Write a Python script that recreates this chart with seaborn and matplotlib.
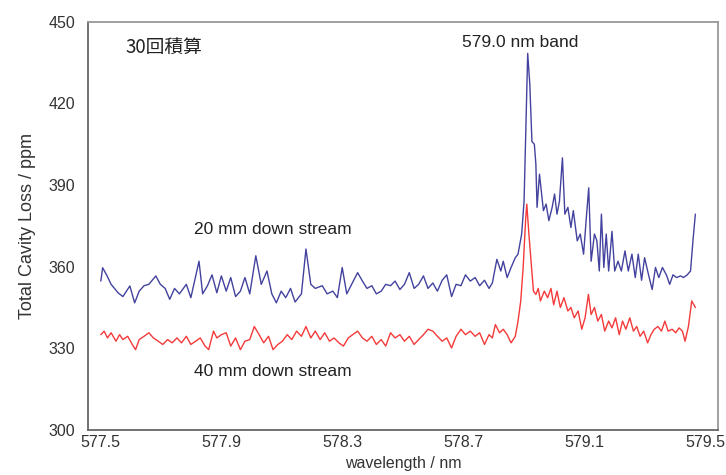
import numpy as np
import pandas as pd
import matplotlib
matplotlib.use("Agg")
import matplotlib.pyplot as plt
from matplotlib.ticker import MultipleLocator
import seaborn as sns

# ---- data ----
wl_20mm = [577.500, 577.506, 577.519, 577.534, 577.557, 577.573, 577.596, 577.612, 577.627, 577.643,
           577.659, 577.682, 577.697, 577.713, 577.728, 577.744, 577.760, 577.783, 577.798, 577.825,
           577.837, 577.853, 577.868, 577.884, 577.899, 577.915, 577.930, 577.946, 577.962, 577.977,
           577.993, 578.013, 578.031, 578.050, 578.066, 578.081, 578.097, 578.112, 578.128, 578.143,
           578.164, 578.179, 578.195, 578.210, 578.233, 578.249, 578.268, 578.283, 578.299, 578.314,
           578.330, 578.350, 578.366, 578.381, 578.397, 578.412, 578.428, 578.443, 578.459, 578.474,
           578.490, 578.505, 578.521, 578.537, 578.552, 578.568, 578.583, 578.599, 578.614, 578.630,
           578.645, 578.661, 578.676, 578.692, 578.707, 578.723, 578.739, 578.754, 578.770, 578.785,
           578.796, 578.811, 578.824, 578.832, 578.845, 578.858, 578.872, 578.881, 578.893, 578.901,
           578.909, 578.913, 578.920, 578.927, 578.935, 578.940, 578.944, 578.952, 578.959, 578.965,
           578.974, 578.983, 578.994, 579.002, 579.010, 579.018, 579.028, 579.036, 579.046, 579.056,
           579.064, 579.077, 579.087, 579.098, 579.108, 579.115, 579.123, 579.134, 579.142, 579.150,
           579.157, 579.165, 579.173, 579.181, 579.192, 579.201, 579.212, 579.223, 579.235, 579.246,
           579.258, 579.269, 579.279, 579.290, 579.300, 579.313, 579.325, 579.336, 579.347, 579.359,
           579.372, 579.383, 579.394, 579.406, 579.419, 579.429, 579.441, 579.452, 579.460, 579.468]
loss_20mm = [354.7, 359.6, 357.0, 353.5, 350.4, 349.0, 352.9, 346.7, 351.0, 353.0,
             353.5, 356.6, 353.5, 352.0, 348.0, 352.0, 350.0, 353.5, 348.6, 362.0,
             350.0, 353.0, 357.0, 350.4, 356.6, 351.0, 356.0, 349.0, 351.0, 356.0,
             350.0, 364.0, 353.5, 358.4, 350.0, 346.7, 351.0, 348.6, 352.0, 347.0,
             350.0, 366.5, 353.5, 352.0, 353.0, 350.0, 351.0, 348.6, 359.7, 350.0,
             353.5, 357.8, 354.7, 352.0, 353.0, 350.0, 351.0, 353.5, 353.0, 354.7,
             351.6, 353.5, 357.8, 352.0, 353.5, 356.6, 352.0, 354.0, 351.0, 355.0,
             357.0, 349.0, 353.5, 353.0, 357.0, 354.7, 356.0, 353.0, 355.0, 352.0,
             354.0, 362.7, 358.4, 362.0, 356.0, 359.7, 363.3, 364.6, 372.0, 384.0,
             421.0, 438.4, 427.0, 406.0, 405.0, 397.8, 381.8, 394.0, 386.7, 380.6,
             383.0, 376.9, 381.8, 386.7, 379.3, 384.0, 400.0, 379.3, 381.8, 374.4,
             380.6, 369.5, 372.0, 364.6, 379.3, 389.0, 362.0, 372.0, 369.5, 358.4,
             379.3, 359.7, 372.0, 358.4, 373.0, 358.4, 362.0, 358.4, 365.8, 358.4,
             364.6, 356.0, 364.6, 355.0, 363.3, 357.0, 351.6, 359.7, 356.0, 359.7,
             357.0, 353.5, 357.0, 356.0, 356.6, 356.0, 357.0, 358.4, 369.5, 379.3]

wl_40mm = [577.500, 577.511, 577.522, 577.534, 577.550, 577.562, 577.573, 577.589, 577.604, 577.615,
           577.627, 577.643, 577.659, 577.674, 577.690, 577.705, 577.721, 577.736, 577.752, 577.767,
           577.783, 577.798, 577.814, 577.829, 577.845, 577.857, 577.873, 577.884, 577.899, 577.915,
           577.930, 577.946, 577.962, 577.977, 577.993, 578.008, 578.024, 578.039, 578.055, 578.070,
           578.086, 578.101, 578.117, 578.132, 578.148, 578.164, 578.179, 578.195, 578.210, 578.226,
           578.241, 578.257, 578.272, 578.288, 578.303, 578.319, 578.334, 578.350, 578.366, 578.381,
           578.397, 578.412, 578.428, 578.443, 578.459, 578.474, 578.490, 578.505, 578.521, 578.537,
           578.552, 578.568, 578.583, 578.599, 578.614, 578.630, 578.645, 578.661, 578.676, 578.692,
           578.707, 578.723, 578.739, 578.754, 578.770, 578.785, 578.796, 578.806, 578.820, 578.832,
           578.845, 578.858, 578.872, 578.881, 578.890, 578.898, 578.906, 578.910, 578.917, 578.924,
           578.932, 578.940, 578.948, 578.955, 578.968, 578.979, 578.990, 578.999, 579.010, 579.021,
           579.033, 579.046, 579.056, 579.067, 579.080, 579.092, 579.103, 579.114, 579.123, 579.134,
           579.145, 579.157, 579.168, 579.181, 579.192, 579.204, 579.216, 579.227, 579.238, 579.251,
           579.263, 579.274, 579.285, 579.297, 579.310, 579.321, 579.332, 579.344, 579.356, 579.367,
           579.378, 579.391, 579.403, 579.414, 579.425, 579.434, 579.445, 579.456, 579.468]
loss_40mm = [335.0, 336.3, 333.8, 335.7, 332.6, 335.0, 333.2, 334.4, 331.4, 329.5,
             333.2, 334.4, 335.7, 333.8, 332.6, 331.4, 333.2, 332.0, 333.8, 332.0,
             334.4, 331.4, 332.6, 333.8, 330.8, 329.5, 336.3, 333.8, 335.0, 335.7,
             330.8, 333.8, 329.5, 332.6, 333.2, 338.0, 335.0, 332.0, 334.4, 329.5,
             331.4, 332.6, 335.0, 333.2, 336.3, 334.4, 338.0, 333.8, 336.3, 333.2,
             335.7, 332.6, 333.8, 332.0, 330.8, 333.8, 335.0, 336.3, 333.8, 332.6,
             334.4, 331.4, 333.2, 330.8, 335.7, 333.8, 335.0, 332.6, 334.4, 331.4,
             333.2, 335.0, 337.0, 336.3, 334.4, 332.6, 333.8, 330.1, 334.4, 337.0,
             335.0, 336.3, 334.4, 335.7, 331.4, 335.0, 333.8, 338.7, 335.7, 337.0,
             335.0, 332.0, 334.4, 340.0, 347.4, 359.7, 376.9, 383.0, 372.0, 362.0,
             351.0, 349.8, 352.0, 347.4, 351.0, 348.6, 352.0, 346.0, 351.0, 345.0,
             348.6, 343.7, 345.0, 341.2, 343.7, 337.0, 341.2, 349.8, 342.4, 345.0,
             340.0, 342.4, 336.3, 340.0, 337.5, 341.2, 335.0, 340.0, 337.0, 341.2,
             336.3, 338.0, 334.4, 336.3, 332.0, 335.0, 337.0, 338.0, 336.3, 340.0,
             336.3, 337.0, 335.7, 337.5, 336.3, 332.6, 338.0, 347.4, 345.0]

series_names = ["20 mm down stream", "40 mm down stream"]
line_colors = ["#43429e", "#f43a3a"]
tick_vals = [577.5, 577.9, 578.3, 578.7, 579.1, 579.5]
tick_text = ["577.5", "577.9", "578.3", "578.7", "579.1", "579.5"]

df = pd.concat([
    pd.DataFrame({"wavelength": wl_20mm, "loss": loss_20mm, "series": series_names[0]}),
    pd.DataFrame({"wavelength": wl_40mm, "loss": loss_40mm, "series": series_names[1]}),
], ignore_index=True)

# ---- plot ----
sns.set_style("white")
plt.rcParams['font.family'] = ['Liberation Sans', 'DejaVu Sans']

fig = plt.figure(figsize=(7.26, 4.75), dpi=100)
ax = fig.add_axes([0.121, 0.095, 0.868, 0.859])

sns.lineplot(data=df, x="wavelength", y="loss", hue="series", palette=line_colors,
             estimator=None, sort=False, linewidth=1.0, legend=False, ax=ax)

ax.set_xlim(577.457, 579.543)
ax.set_ylim(300, 450)
ax.xaxis.set_minor_locator(MultipleLocator(0.1))
ax.yaxis.set_major_locator(MultipleLocator(30))
ax.yaxis.set_minor_locator(MultipleLocator(6))
ax.set_xticks(tick_vals)
ax.set_xticklabels(tick_text)
ax.tick_params(axis="both", which="both", direction="in", top=False, right=False,
               colors="#555555", labelcolor="#333333", labelsize=11.5)
ax.tick_params(which="major", length=6, width=1)
ax.tick_params(which="minor", length=4, width=1)
ax.tick_params(axis="x", pad=4)
ax.tick_params(axis="y", pad=9)

for side in ["left", "bottom"]:
    ax.spines[side].set_color("#666666")
    ax.spines[side].set_linewidth(1.3)
for side in ["top", "right"]:
    ax.spines[side].set_color("#999999")
    ax.spines[side].set_linewidth(1.3)

ax.set_xlabel("wavelength / nm", fontsize=11.5, color="#333333", labelpad=4)
ax.set_ylabel("Total Cavity Loss / ppm", fontsize=13, color="#333333", labelpad=9)

ax.text(577.58, 440.5, "30回積算", fontsize=13.5, color="#222222", va="center",
        family=['Noto Sans CJK JP', 'Liberation Sans'])
ax.text(578.887, 442.5, "579.0 nm band", fontsize=12.5, color="#222222", ha="center", va="center")
ax.text(577.81, 373.5, "20 mm down stream", fontsize=12.5, color="#222222", va="center")
ax.text(577.81, 321.3, "40 mm down stream", fontsize=12.5, color="#222222", va="center")

fig.savefig("out.png", dpi=100)
